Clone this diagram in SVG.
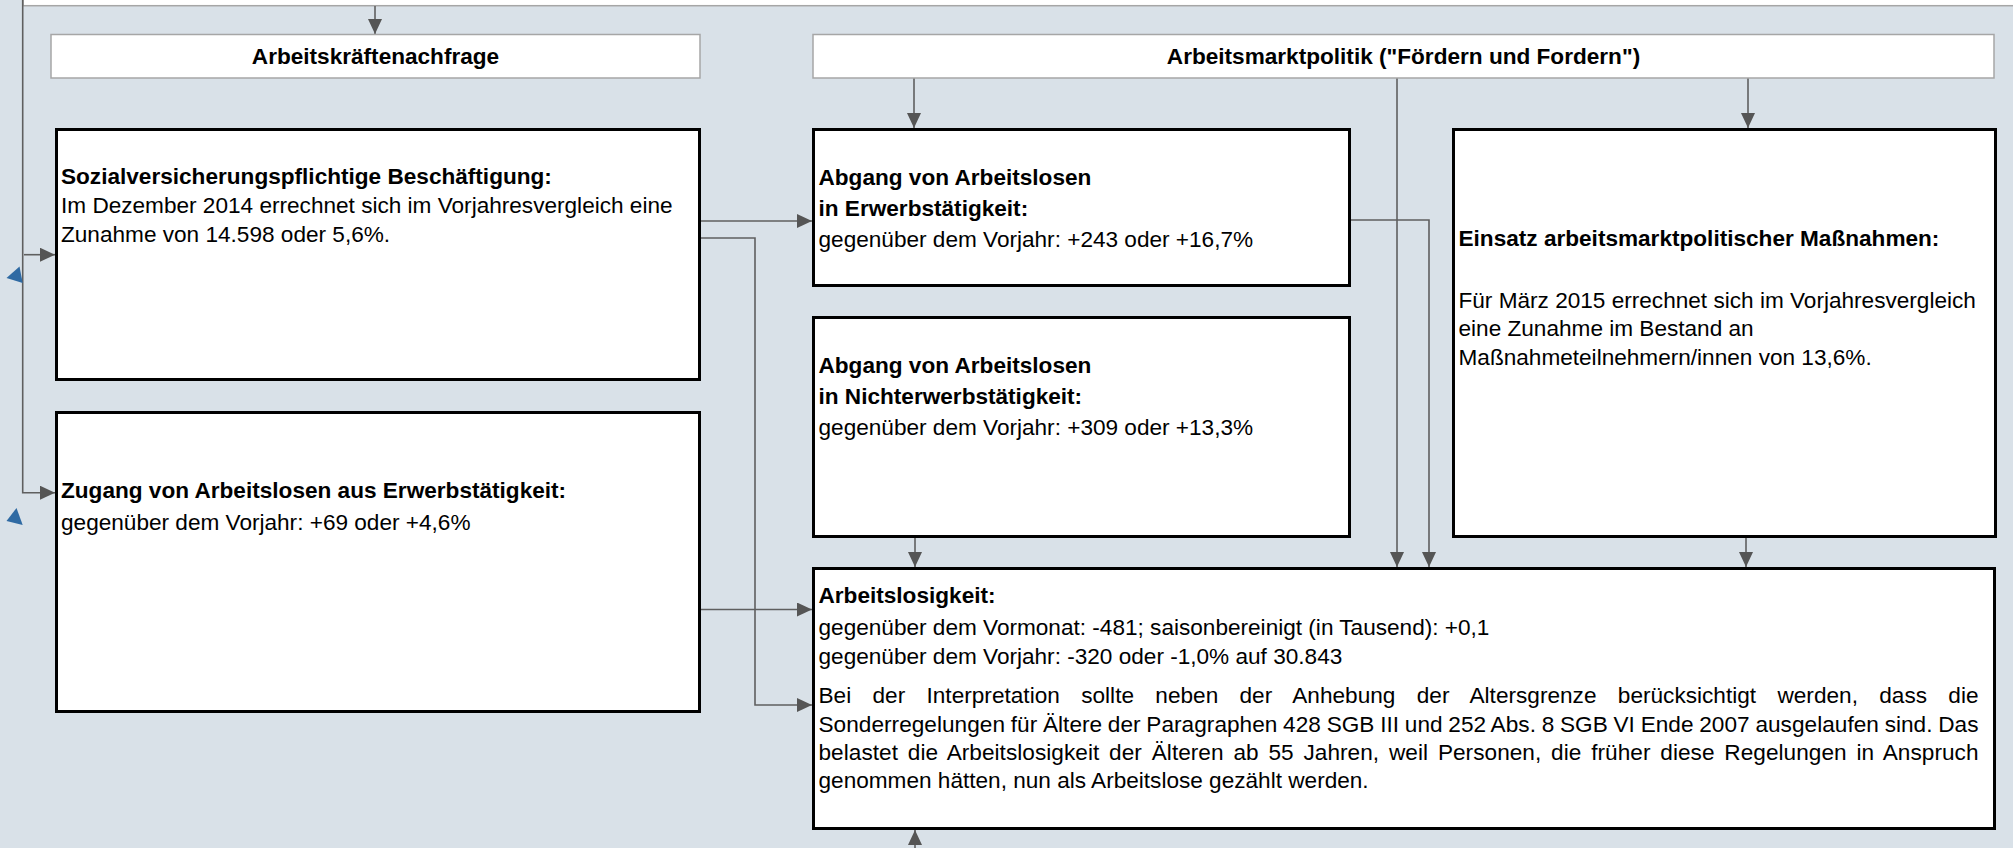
<svg xmlns="http://www.w3.org/2000/svg" width="2013" height="848" viewBox="0 0 2013 848">
<style>
.box{fill:#ffffff;stroke:#000000;stroke-width:3}
.hdr{fill:#ffffff;stroke:#a6a6a6;stroke-width:1.5}
.t{font-family:"Liberation Sans",Arial,sans-serif;font-size:22.6px;fill:#000000}
.b{font-weight:bold}
.c{fill:none;stroke:#5f5f5f;stroke-width:1.6}
.blue{fill:#2f6aa3}
</style>
<defs>
<marker id="ah" viewBox="0 0 15 14" refX="15" refY="7" markerWidth="15" markerHeight="14" markerUnits="userSpaceOnUse" orient="auto">
<path d="M0,0 L15,7 L0,14 Z" fill="#555555"/>
</marker>
</defs>
<rect x="0" y="0" width="2013" height="848" fill="#d9e1e8"/>
<rect x="23" y="-10" width="2000" height="15.7" fill="#ffffff" stroke="#a6a6a6" stroke-width="1.5"/>

<g id="connectors">
<path class="c" d="M375,6 V34" marker-end="url(#ah)"/>
<path class="c" d="M22.7,0 V492.7 H55" marker-end="url(#ah)"/>
<path class="c" d="M24,254.7 H55" marker-end="url(#ah)"/>
<path class="c" d="M701,221 H812" marker-end="url(#ah)"/>
<path class="c" d="M701,238 H755 V705 H812" marker-end="url(#ah)"/>
<path class="c" d="M701,609.5 H812" marker-end="url(#ah)"/>
<path class="c" d="M914,78 V128" marker-end="url(#ah)"/>
<path class="c" d="M1397,78 V567" marker-end="url(#ah)"/>
<path class="c" d="M1748,78 V128" marker-end="url(#ah)"/>
<path class="c" d="M1351,220 H1429 V567" marker-end="url(#ah)"/>
<path class="c" d="M915,538 V567" marker-end="url(#ah)"/>
<path class="c" d="M1746,538 V567" marker-end="url(#ah)"/>
<path class="c" d="M915,848 V830" marker-end="url(#ah)"/>
<polygon class="blue" points="19.5,266.5 6.5,278 22.7,283"/>
<polygon class="blue" points="16.5,508 6.5,521 22.7,525"/>
</g>

<g id="n-arbeitskraeftenachfrage">
<rect class="hdr" x="51" y="34.5" width="649" height="43.5"/>
<text class="t b" x="375.5" y="63.5" text-anchor="middle">Arbeitskräftenachfrage</text>
</g>

<g id="n-arbeitsmarktpolitik">
<rect class="hdr" x="813" y="34.5" width="1181" height="43.5"/>
<text class="t b" x="1403.5" y="63.5" text-anchor="middle">Arbeitsmarktpolitik ("Fördern und Fordern")</text>
</g>

<g id="n-sozial">
<rect class="box" x="56.5" y="129.5" width="643" height="250"/>
<text class="t b" x="61" y="184">Sozialversicherungspflichtige Beschäftigung:</text>
<text class="t" x="61" y="213">Im Dezember 2014 errechnet sich im Vorjahresvergleich eine</text>
<text class="t" x="61" y="242">Zunahme von 14.598 oder 5,6%.</text>
</g>

<g id="n-zugang">
<rect class="box" x="56.5" y="412.5" width="643" height="299"/>
<text class="t b" x="61" y="498">Zugang von Arbeitslosen aus Erwerbstätigkeit:</text>
<text class="t" x="61" y="530">gegenüber dem Vorjahr: +69 oder +4,6%</text>
</g>

<g id="n-abgang-erwerb">
<rect class="box" x="813.5" y="129.5" width="536" height="156"/>
<text class="t b" x="818.5" y="185">Abgang von Arbeitslosen</text>
<text class="t b" x="818.5" y="216">in Erwerbstätigkeit:</text>
<text class="t" x="818.5" y="247">gegenüber dem Vorjahr: +243 oder +16,7%</text>
</g>

<g id="n-abgang-nichterwerb">
<rect class="box" x="813.5" y="317.5" width="536" height="219"/>
<text class="t b" x="818.5" y="373">Abgang von Arbeitslosen</text>
<text class="t b" x="818.5" y="404">in Nichterwerbstätigkeit:</text>
<text class="t" x="818.5" y="435">gegenüber dem Vorjahr: +309 oder +13,3%</text>
</g>

<g id="n-einsatz">
<rect class="box" x="1453.5" y="129.5" width="542" height="407"/>
<text class="t b" x="1458.5" y="246">Einsatz arbeitsmarktpolitischer Maßnahmen:</text>
<text class="t" x="1458.5" y="307.5">Für März 2015 errechnet sich im Vorjahresvergleich</text>
<text class="t" x="1458.5" y="336">eine Zunahme im Bestand an</text>
<text class="t" x="1458.5" y="364.5">Maßnahmeteilnehmern/innen von 13,6%.</text>
</g>

<g id="n-arbeitslosigkeit">
<rect class="box" x="813.5" y="568.5" width="1181" height="260"/>
<text class="t b" x="818.5" y="603">Arbeitslosigkeit:</text>
<text class="t" x="818.5" y="635">gegenüber dem Vormonat: -481; saisonbereinigt (in Tausend): +0,1</text>
<text class="t" x="818.5" y="663.5">gegenüber dem Vorjahr: -320 oder -1,0% auf 30.843</text>
<text class="t" x="818.5" y="703" word-spacing="15" textLength="1160" lengthAdjust="spacing">Bei der Interpretation sollte neben der Anhebung der Altersgrenze berücksichtigt werden, dass die</text>
<text class="t" x="818.5" y="731.5" word-spacing="-0.6" textLength="1160" lengthAdjust="spacing">Sonderregelungen für Ältere der Paragraphen 428 SGB III und 252 Abs. 8 SGB VI Ende 2007 ausgelaufen sind. Das</text>
<text class="t" x="818.5" y="759.5" word-spacing="3.5" textLength="1160" lengthAdjust="spacing">belastet die Arbeitslosigkeit der Älteren ab 55 Jahren, weil Personen, die früher diese Regelungen in Anspruch</text>
<text class="t" x="818.5" y="787.5">genommen hätten, nun als Arbeitslose gezählt werden.</text>
</g>
</svg>
